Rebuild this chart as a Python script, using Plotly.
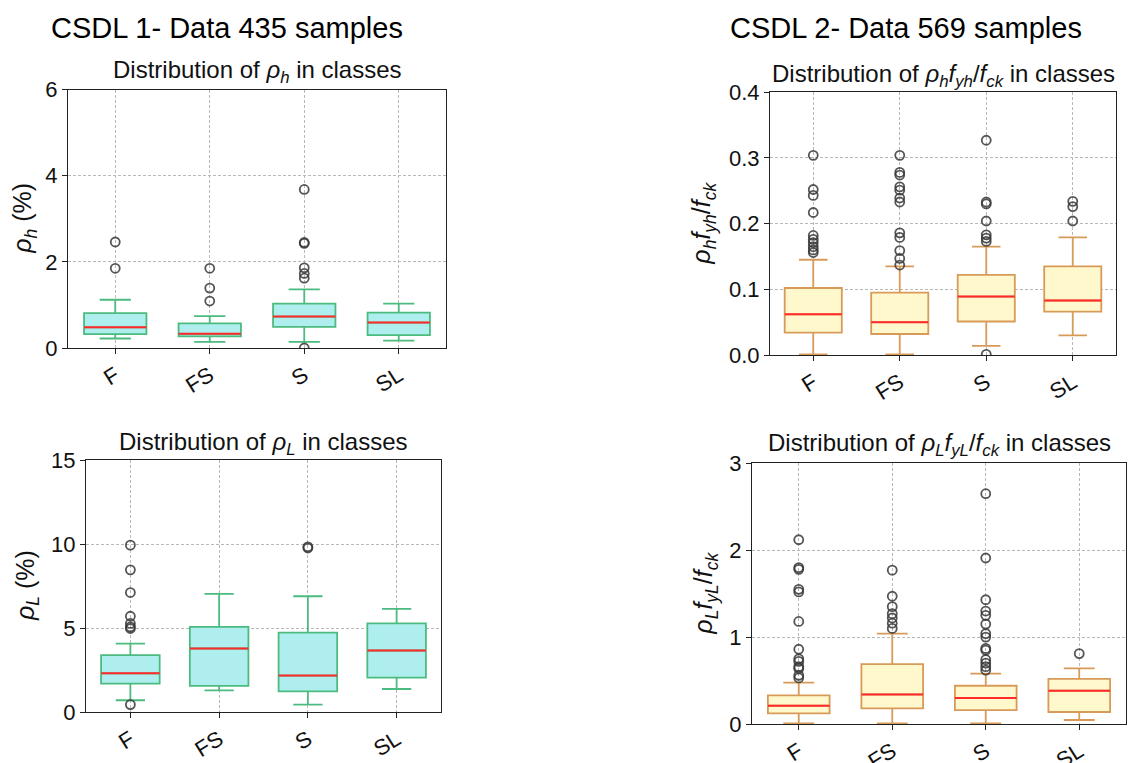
import plotly.graph_objects as go

W, H = 1129, 763
FONT = "Liberation Sans, Arial, sans-serif"

classes = ["F", "FS", "S", "SL"]
xpos = [0, 1, 2, 3]

# Panel 1: rho_h (%)  (CSDL 1)
p1_q1 = [0.32, 0.27, 0.49, 0.30]
p1_med = [0.48, 0.33, 0.73, 0.59]
p1_q3 = [0.81, 0.57, 1.03, 0.82]
p1_lo = [0.22, 0.14, 0.14, 0.17]
p1_hi = [1.12, 0.74, 1.36, 1.03]
p1_out = {
    "F": [1.85, 2.46],
    "FS": [1.09, 1.39, 1.85],
    "S": [0.0, 1.62, 1.73, 1.86, 2.43, 2.45, 3.68],
    "SL": [],
}

# Panel 2: rho_h f_yh / f_ck  (CSDL 2)
p2_q1 = [0.034, 0.032, 0.051, 0.066]
p2_med = [0.062, 0.050, 0.089, 0.083]
p2_q3 = [0.102, 0.095, 0.122, 0.135]
p2_lo = [0.001, 0.001, 0.014, 0.030]
p2_hi = [0.145, 0.135, 0.165, 0.179]
p2_out = {
    "F": [0.156, 0.160, 0.165, 0.171, 0.176, 0.182, 0.217, 0.243, 0.252, 0.304],
    "FS": [0.137, 0.147, 0.159, 0.179, 0.186, 0.233, 0.239, 0.251, 0.256, 0.274, 0.278, 0.304],
    "S": [0.001, 0.173, 0.178, 0.183, 0.204, 0.230, 0.233, 0.327],
    "SL": [0.204, 0.226, 0.234],
}

# Panel 3: rho_L (%)  (CSDL 1)
p3_q1 = [1.69, 1.55, 1.23, 2.05]
p3_med = [2.30, 3.78, 2.17, 3.66]
p3_q3 = [3.38, 5.07, 4.73, 5.28]
p3_lo = [0.70, 1.29, 0.44, 1.37]
p3_hi = [4.07, 7.03, 6.89, 6.14]
p3_out = {
    "F": [0.44, 4.97, 5.07, 5.27, 5.70, 7.11, 8.46, 9.93],
    "FS": [],
    "S": [9.76, 9.83],
    "SL": [],
}

# Panel 4: rho_L f_yL / f_ck  (CSDL 2)
p4_q1 = [0.123, 0.18, 0.16, 0.138]
p4_med = [0.211, 0.34, 0.30, 0.384]
p4_q3 = [0.33, 0.69, 0.44, 0.52]
p4_lo = [0.008, 0.008, 0.008, 0.046]
p4_hi = [0.476, 1.04, 0.58, 0.64]
p4_out = {
    "F": [0.53, 0.56, 0.64, 0.66, 0.72, 0.75, 0.86, 1.18, 1.52, 1.55, 1.78, 1.80, 2.12],
    "FS": [1.10, 1.16, 1.22, 1.27, 1.35, 1.47, 1.77],
    "S": [0.62, 0.66, 0.70, 0.74, 0.85, 0.87, 1.00, 1.04, 1.15, 1.25, 1.30, 1.43, 1.91, 2.65],
    "SL": [0.81],
}

GREEN_FILL = "#afeeee"
GREEN_EDGE = "#4cbb7f"
YEL_FILL = "#fff8cc"
YEL_EDGE = "#d89a58"

panels = [
    dict(q1=p1_q1, med=p1_med, q3=p1_q3, lo=p1_lo, hi=p1_hi, out=p1_out,
         fill=GREEN_FILL, edge=GREEN_EDGE, yr=[0, 6], dt=2, fmt="",
         xd=[68, 446], yd=[89.5, 348], ty=72,
         title="Distribution of <i>ρ<sub>h</sub></i> in classes",
         ytitle="<i>ρ<sub>h</sub></i> (%)", ytx=24),
    dict(q1=p2_q1, med=p2_med, q3=p2_q3, lo=p2_lo, hi=p2_hi, out=p2_out,
         fill=YEL_FILL, edge=YEL_EDGE, yr=[0, 0.4], dt=0.1, fmt=".1f",
         xd=[770, 1116], yd=[92.3, 355], ty=75,
         title="Distribution of <i>ρ<sub>h</sub>f<sub>yh</sub></i>/<i>f<sub>ck</sub></i> in classes",
         ytitle="<i>ρ<sub>h</sub>f<sub>yh</sub></i>/<i>f<sub>ck</sub></i>", ytx=703),
    dict(q1=p3_q1, med=p3_med, q3=p3_q3, lo=p3_lo, hi=p3_hi, out=p3_out,
         fill=GREEN_FILL, edge=GREEN_EDGE, yr=[0, 15], dt=5, fmt="",
         xd=[86, 441], yd=[460, 712], ty=443,
         title="Distribution of <i>ρ<sub>L</sub></i> in classes",
         ytitle="<i>ρ<sub>L</sub></i> (%)", ytx=27),
    dict(q1=p4_q1, med=p4_med, q3=p4_q3, lo=p4_lo, hi=p4_hi, out=p4_out,
         fill=YEL_FILL, edge=YEL_EDGE, yr=[0, 3], dt=1, fmt="",
         xd=[752, 1126], yd=[463.3, 724], ty=445,
         title="Distribution of <i>ρ<sub>L</sub>f<sub>yL</sub></i>/<i>f<sub>ck</sub></i> in classes",
         ytitle="<i>ρ<sub>L</sub>f<sub>yL</sub></i>/<i>f<sub>ck</sub></i>", ytx=705),
]

fig = go.Figure()
annotations = []
layout_axes = {}

for i, p in enumerate(panels, start=1):
    xa = "x" if i == 1 else f"x{i}"
    ya = "y" if i == 1 else f"y{i}"
    # main box
    fig.add_trace(go.Box(
        x=xpos, q1=p["q1"], median=p["med"], q3=p["q3"],
        lowerfence=p["lo"], upperfence=p["hi"],
        boxpoints=False, width=0.66, whiskerwidth=0.5,
        fillcolor=p["fill"], line=dict(color=p["edge"], width=1.8),
        xaxis=xa, yaxis=ya, showlegend=False, hoverinfo="skip",
    ))
    # red median line (degenerate box at the median)
    fig.add_trace(go.Box(
        x=xpos, q1=p["med"], median=p["med"], q3=p["med"],
        lowerfence=p["med"], upperfence=p["med"],
        boxpoints=False, width=0.66, whiskerwidth=0.0,
        fillcolor="rgba(0,0,0,0)", line=dict(color="#ff2a2a", width=2),
        xaxis=xa, yaxis=ya, showlegend=False, hoverinfo="skip",
    ))
    # outliers
    ox, oy = [], []
    for k, c in enumerate(classes):
        for v in p["out"][c]:
            ox.append(k)
            oy.append(v)
    fig.add_trace(go.Scatter(
        x=ox, y=oy, mode="markers",
        marker=dict(symbol="circle-open", size=9, color="rgba(55,55,55,0.85)",
                    line=dict(width=1.8, color="rgba(55,55,55,0.85)")),
        xaxis=xa, yaxis=ya, showlegend=False, hoverinfo="skip",
    ))

    xd0, xd1 = p["xd"][0] / W, p["xd"][1] / W
    yd0, yd1 = 1 - p["yd"][1] / H, 1 - p["yd"][0] / H
    key = "" if i == 1 else str(i)
    axis_common = dict(
        showline=True, linecolor="#222", linewidth=1.2, mirror=True,
        ticks="outside", ticklen=5, tickwidth=1.2, tickcolor="#222",
        showgrid=True, gridcolor="#b8b8b8", gridwidth=0.7, griddash="3px,2px",
        zeroline=False, automargin=False,
        tickfont=dict(family=FONT, size=22, color="#111"),
    )
    layout_axes["xaxis" + key] = dict(
        axis_common, domain=[xd0, xd1], range=[-0.5, 3.5],
        tickmode="array", tickvals=xpos, ticktext=classes, tickangle=-32,
        anchor=ya,
    )
    layout_axes["yaxis" + key] = dict(
        axis_common, domain=[yd0, yd1], range=p["yr"],
        tickmode="linear", tick0=0, dtick=p["dt"], tickformat=p["fmt"],
        anchor=xa,
    )
    # subplot title
    annotations.append(dict(
        text=p["title"], xref="paper", yref="paper",
        x=(xd0 + xd1) / 2, y=1 - p["ty"] / H, xanchor="center", yanchor="middle",
        showarrow=False, font=dict(family=FONT, size=24, color="#111"),
    ))
    # y-axis title
    annotations.append(dict(
        text=p["ytitle"], xref="paper", yref="paper",
        x=p["ytx"] / W, y=(yd0 + yd1) / 2, xanchor="center", yanchor="middle",
        textangle=-90, showarrow=False, font=dict(family=FONT, size=25, color="#111"),
    ))

annotations.append(dict(
    text="CSDL 1- Data 435 samples", xref="paper", yref="paper",
    x=227 / W, y=1 - 28 / H, xanchor="center", yanchor="middle",
    showarrow=False, font=dict(family=FONT, size=29, color="#000"),
))
annotations.append(dict(
    text="CSDL 2- Data 569 samples", xref="paper", yref="paper",
    x=906 / W, y=1 - 28 / H, xanchor="center", yanchor="middle",
    showarrow=False, font=dict(family=FONT, size=29, color="#000"),
))

fig.update_layout(
    width=W, height=H, margin=dict(l=0, r=0, t=0, b=0, autoexpand=False),
    paper_bgcolor="white", plot_bgcolor="white",
    boxmode="overlay", annotations=annotations,
    font=dict(family=FONT),
    **layout_axes,
)

fig.write_html("out.html")
